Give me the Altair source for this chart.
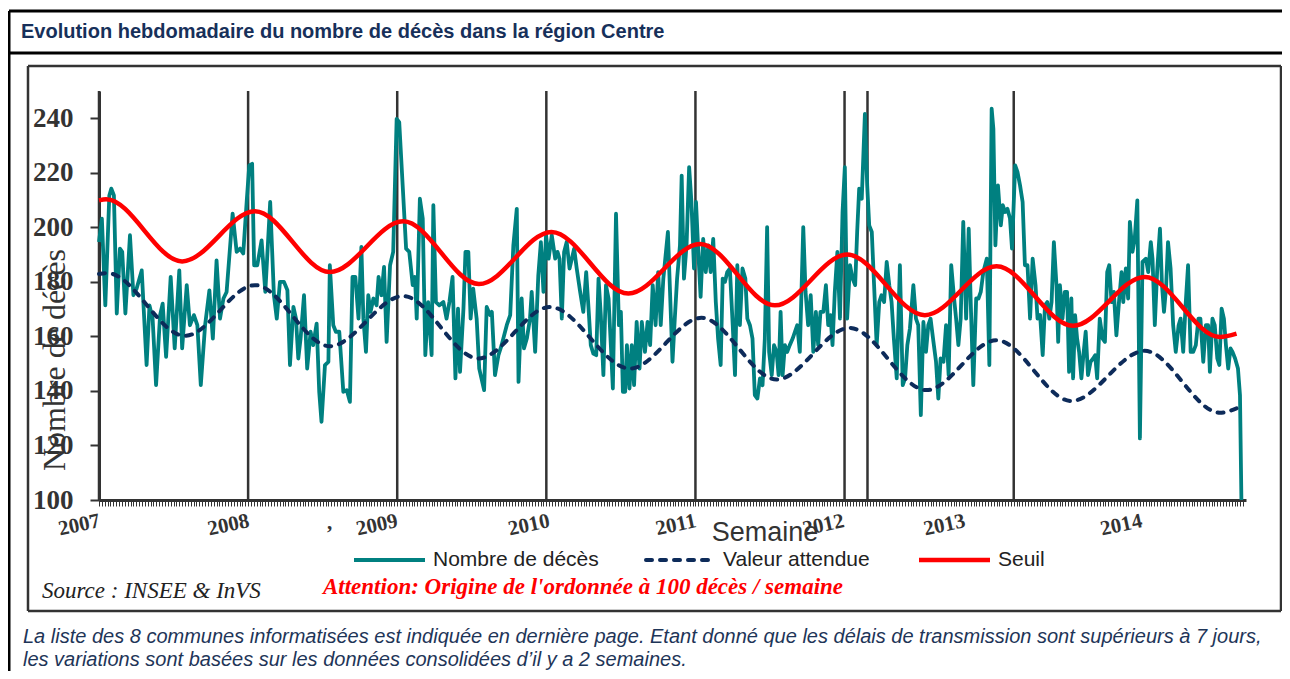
import altair as alt
import pandas as pd

# ---------------- data ----------------
# weekly deaths (week index from 1st week of 2007, value)
death_2007 = [(0.0,194.6),(1.0,203.2),(2.2,171.4),(3.6,211.7),(4.3,214.2),(5.2,211.7),(6.2,168.4),(7.3,192.2),(8.1,191.0),(9.2,168.4),(10.8,197.1),(12.0,175.1),(13.1,177.5),(14.9,184.2),(16.6,149.5),(17.6,171.4),(18.7,166.5),(19.9,142.1),(21.3,167.8),(22.2,172.0),(23.4,152.5),(25.0,181.8),(26.4,155.6),(28.0,184.2),(29.0,155.6),(30.6,178.8),(31.7,164.1),(33.1,167.8),(34.3,164.1),(35.5,142.1),(37.0,164.1),(38.5,176.9),(39.7,159.2),(41.0,187.9),(42.2,166.5),(43.4,173.9),(44.5,176.3),(46.6,205.0),(48.0,191.0),(49.2,192.2),(50.3,190.4),(51.5,209.3)]
death_2008 = [(52.4,222.7),(53.4,223.3),(54.1,186.1),(55.2,186.1),(56.7,195.2),(58.0,176.3),(59.7,209.3),(61.0,175.1),(62.0,166.5),(63.1,180.0),(64.5,180.0),(65.7,176.9),(66.6,149.5),(67.8,170.8),(68.7,166.5),(69.5,151.9),(70.3,159.2),(71.5,175.1),(72.6,148.2),(73.8,161.7),(74.7,156.8),(75.9,164.7),(76.8,139.7),(77.6,128.7),(78.8,149.5),(80.0,150.7),(80.5,186.1),(81.7,164.1),(82.6,161.7),(83.8,161.7),(85.2,139.7),(86.4,140.3),(87.5,136.0),(88.4,181.8),(89.4,181.8),(90.5,166.5),(91.5,192.8),(92.2,166.5),(93.1,154.3),(93.9,175.1),(94.7,169.0),(95.7,173.9),(96.8,171.4),(97.5,181.8),(98.5,175.1),(99.4,185.5),(100.3,158.0),(101.5,186.1),(102.6,191.0)]
death_2009 = [(103.8,239.8),(104.7,238.6),(105.9,215.4),(107.1,192.2),(108.2,191.0),(109.4,178.8),(110.2,181.8),(110.8,166.5),(111.9,210.5),(112.9,203.2),(113.8,153.1),(114.8,172.6),(116.0,153.1),(116.6,208.1),(117.5,172.6),(118.7,171.4),(120.1,172.6),(121.2,166.5),(122.2,172.6),(123.3,181.8),(124.3,144.6),(125.2,170.2),(125.9,147.0),(127.1,170.2),(127.8,191.0),(128.8,191.0),(129.6,166.5),(130.5,177.5),(131.7,166.5),(132.6,148.2),(134.3,140.3),(135.2,170.8),(136.4,167.8),(137.0,169.0),(138.1,145.8),(139.3,153.1),(140.4,156.8),(142.2,164.1),(143.4,167.8),(144.5,193.4),(145.7,206.8),(146.3,143.3),(147.4,173.9),(148.2,155.6),(149.2,159.2),(150.3,166.5),(150.9,176.3),(152.1,154.3),(153.2,182.4),(154.1,194.6),(155.0,176.3)]
death_2010 = [(155.9,197.1),(156.8,188.5),(157.9,197.1),(159.1,188.5),(159.9,191.0),(160.6,188.5),(161.4,166.5),(162.2,191.0),(163.1,194.6),(164.1,184.9),(164.9,188.5),(165.7,192.2),(166.6,184.9),(167.8,176.3),(168.9,169.0),(169.9,183.6),(170.8,169.0),(171.5,156.8),(172.4,153.7),(173.4,153.1),(174.2,181.2),(175.0,167.8),(175.9,145.8),(176.8,178.8),(177.7,173.9),(178.5,156.8),(179.2,140.9),(180.3,205.0),(181.3,164.1),(182.0,169.0),(182.7,139.7),(183.5,139.7),(184.1,156.8),(185.0,140.9),(185.8,156.8),(186.6,142.1),(187.5,165.3),(188.5,148.2),(189.3,165.3),(190.4,154.3),(191.3,165.3),(192.2,156.8),(193.1,178.8),(194.1,164.1),(195.0,183.6),(195.9,164.1),(196.8,181.2),(198.4,198.3),(200.0,150.7),(200.8,166.5),(201.6,181.2),(202.6,193.4),(203.2,219.0),(204.0,181.2),(204.9,193.4),(205.8,222.1),(206.6,209.3),(207.5,184.9)]
death_2011 = [(208.2,209.3),(209.0,191.0),(209.8,174.5),(210.7,195.8),(211.6,183.6),(212.5,193.4),(213.3,183.6),(214.2,195.8),(215.1,172.6),(215.9,159.2),(216.8,149.5),(217.5,181.2),(218.3,180.0),(219.1,183.6),(220.0,184.9),(221.0,164.1),(221.8,145.8),(222.6,186.1),(223.5,164.1),(224.4,184.9),(225.4,181.2),(226.1,166.5),(227.0,164.1),(227.9,159.2),(228.7,138.5),(229.6,137.2),(230.5,144.6),(231.4,142.1),(232.2,159.2),(233.0,200.1),(233.7,154.3),(234.6,145.8),(235.4,156.8),(236.3,154.3),(237.0,145.8),(237.7,169.0),(238.4,145.8),(239.2,156.8),(240.0,154.3),(240.9,156.8),(241.9,159.2),(242.7,161.7),(243.5,164.1),(244.4,154.3),(245.6,200.1),(246.4,176.3),(247.3,164.1),(248.2,175.1),(249.1,154.3),(250.0,169.0),(250.8,156.8),(251.6,169.0),(252.6,169.0),(253.5,178.8),(254.3,164.1),(255.1,167.8),(255.8,156.8),(256.6,176.3),(257.5,191.0),(258.4,166.5),(259.3,205.6)]
death_2012 = [(260.1,222.1),(260.9,166.5),(261.9,186.1),(262.8,181.2),(263.7,178.8),(264.4,198.3),(265.1,214.2),(266.0,210.5),(267.1,241.6),(267.9,215.4),(268.6,200.7),(269.5,198.3),(270.3,178.8),(271.2,156.8),(272.1,172.6),(272.9,175.1),(273.8,172.6),(274.7,187.3),(275.6,178.8),(276.4,172.6),(277.2,159.2),(278.2,144.6),(279.3,186.1),(280.3,142.1),(281.1,144.6),(281.9,156.8),(282.8,162.9),(284.0,178.8),(284.9,166.5),(285.7,164.1),(286.6,131.1),(287.5,165.3),(288.4,154.3),(289.2,164.1),(290.0,166.5),(291.0,158.0),(291.9,150.7),(292.7,137.2),(293.5,151.9),(294.5,150.7),(295.4,164.1),(296.3,145.8),(297.2,186.1),(298.2,173.9),(298.9,166.5),(299.7,156.8),(300.5,166.5),(301.4,202.0),(302.4,166.5),(303.3,199.5),(304.0,172.6),(304.9,142.1),(305.9,173.9),(306.7,173.9),(307.5,176.3),(308.4,183.6),(309.6,188.5),(310.5,149.5)]
death_2013 = [(311.3,243.5),(311.9,236.1),(312.6,193.4),(313.5,215.4),(314.5,200.7),(315.2,208.1),(316.0,205.6),(316.8,206.8),(317.7,203.2),(318.4,192.2),(319.5,222.7),(320.3,220.3),(321.2,215.4),(322.1,209.3),(322.9,186.1),(323.8,186.1),(324.7,166.5),(325.6,188.5),(326.6,178.8),(327.3,166.5),(328.2,167.8),(329.1,153.1),(329.9,171.4),(330.7,172.6),(331.4,166.5),(332.2,172.6),(333.0,194.6),(333.9,178.8),(334.5,158.0),(335.1,178.8),(336.0,166.5),(336.8,176.3),(337.6,176.3),(338.3,147.0),(339.1,173.9),(339.7,144.6),(340.4,167.8),(341.1,159.2),(341.8,154.3),(342.6,144.6),(343.4,154.3),(344.1,161.7),(344.9,145.8),(345.8,150.7),(346.7,151.9),(347.4,153.1),(348.1,144.6),(349.0,166.5),(350.0,159.2),(350.8,158.0),(351.6,183.6),(352.3,186.1),(353.1,172.6),(353.9,176.3),(354.8,160.4),(355.8,173.9),(356.6,183.6),(357.2,172.6),(358.1,184.9),(358.9,173.9),(359.5,202.0),(360.4,191.0),(361.2,195.8),(362.1,209.9)]
death_2014 = [(363.0,122.6),(363.9,187.3),(365.1,188.5),(365.9,183.6),(366.8,194.6),(367.4,188.5),(368.2,164.1),(369.0,183.6),(370.0,199.5),(370.7,178.8),(371.4,169.0),(372.1,177.5),(372.8,194.6),(373.7,184.9),(374.6,164.1),(375.5,154.3),(376.5,164.1),(377.2,166.5),(378.1,154.3),(379.0,172.6),(379.8,186.1),(380.7,154.3),(381.6,154.3),(382.5,156.8),(383.4,166.5),(384.1,166.5),(385.1,150.7),(386.0,164.1),(386.8,164.1),(387.4,147.0),(388.3,166.5),(389.1,164.1),(390.0,151.9),(390.7,149.5),(391.5,170.2),(392.3,166.5),(393.0,156.8),(393.8,148.2),(394.6,155.6),(395.3,154.3),(396.2,151.9),(397.2,148.2),(397.9,138.5),(398.4,100.0)]

# expected value (dashed) : turning points
expected_weeks = [0, 3, 30, 54.4, 80.5, 106.1, 132.3, 157.3, 185.2, 210.1, 236.3, 261.8, 288.6, 313, 339.1, 364.7, 390.9, 396.7]
expected_values = [182.9, 183.2, 160.2, 178.8, 156.4, 174.8, 151.9, 170.8, 148.2, 166.8, 144.2, 163.1, 140.3, 158.6, 136.3, 154.7, 132.0, 133.6]

# threshold (red) : turning points
threshold_weeks = [0, 2.5, 29, 54.4, 80.5, 106.1, 132.5, 157.8, 184.6, 209.6, 235.7, 260.9, 288, 313, 339.7, 364.7, 390.9, 396.7]
threshold_values = [209.9, 210.3, 187.5, 205.9, 183.6, 202.2, 179.2, 198.3, 175.7, 193.9, 171.4, 190.0, 167.8, 185.7, 163.9, 181.8, 159.8, 161.0]

year_line_weeks = [0, 52, 104, 156, 208, 260, 268, 319]
year_labels = ["2007", "2008", "2009", "2010", "2011", "2012", "2013", "2014"]
year_label_weeks = [0.3, 52.3, 104.1, 157.1, 208.2, 259.8, 302, 363.7]
y_ticks = [100, 120, 140, 160, 180, 200, 220, 240]
x_ticks = list(range(0, 400))

# ---------------- tables ----------------
death_points = death_2007 + death_2008 + death_2009 + death_2010 + death_2011 + death_2012 + death_2013 + death_2014
df_death = pd.DataFrame({"week": [p[0] for p in death_points], "value": [p[1] for p in death_points]})
df_exp = pd.DataFrame({"week": expected_weeks, "value": expected_values})
df_thr = pd.DataFrame({"week": threshold_weeks, "value": threshold_values})
df_years = pd.DataFrame({"week": year_line_weeks})
df_ylab = pd.DataFrame({"week": year_label_weeks, "label": year_labels})
dummy = pd.DataFrame({"a": [0]})

TEAL = "#008080"
NAVY = "#0d2b5a"
RED = "#ff0000"
DARK = "#333333"

x_scale = alt.Scale(domain=[0, 400], nice=False, zero=False)
y_scale = alt.Scale(domain=[100, 250], nice=False, zero=False)
x_axis = alt.Axis(values=x_ticks, labels=False, tickSize=6, tickWidth=1, tickColor=DARK,
                  domainColor=DARK, domainWidth=3, grid=False, title=None)
y_axis = alt.Axis(values=y_ticks, labelFont="Liberation Serif", labelFontSize=27,
                  labelFontWeight="bold", labelColor=DARK, tickSize=9, tickWidth=2,
                  tickColor=DARK, domainColor=DARK, domainWidth=3, labelPadding=17,
                  grid=False, title=None)
X = alt.X("week:Q", scale=x_scale, axis=x_axis)
Y = alt.Y("value:Q", scale=y_scale, axis=y_axis)


def text(t, x, y, size, font="Liberation Sans", color="#222222", weight="normal",
         style="normal", align="left", angle=0):
    return alt.Chart(dummy).mark_text(
        text=t, font=font, fontSize=size, fontWeight=weight, fontStyle=style,
        color=color, align=align, baseline="middle", angle=angle
    ).encode(x=alt.value(x), y=alt.value(y))


def hline(x1, x2, y, color="black", width=3, dash=None):
    kw = dict(color=color, strokeWidth=width)
    if dash:
        kw["strokeDash"] = dash
        kw["strokeCap"] = "round"
    return alt.Chart(dummy).mark_rule(**kw).encode(
        x=alt.value(x1), x2=alt.value(x2), y=alt.value(y))


def vline(x, y1, y2, color="black", width=3):
    return alt.Chart(dummy).mark_rule(color=color, strokeWidth=width).encode(
        x=alt.value(x), y=alt.value(y1), y2=alt.value(y2))


# frames (chart coords: page_x - 99, page_y - 91)
frames = [
    hline(-90, 1183, -80, "black", 3),
    hline(-90, 1183, -38, "black", 3),
    vline(-90, -80, 585, "black", 3),
    hline(-71, 1182, -25, DARK, 2.5),
    hline(-71, 1182, 520, DARK, 2.5),
    vline(-71, -25, 520, DARK, 2.5),
    vline(1182, -25, 520, DARK, 2.5),
]

year_rules = alt.Chart(df_years).mark_rule(color=DARK, strokeWidth=2.5).encode(x=X)

deaths = alt.Chart(df_death).mark_line(color=TEAL, strokeWidth=3.8, strokeJoin="round").encode(x=X, y=Y)
expected = alt.Chart(df_exp).mark_line(color=NAVY, strokeWidth=4, strokeDash=[6, 8],
                                       strokeCap="round", interpolate="monotone").encode(x=X, y=Y)
threshold = alt.Chart(df_thr).mark_line(color=RED, strokeWidth=4.5,
                                        interpolate="monotone").encode(x=X, y=Y)

year_text = alt.Chart(df_ylab).mark_text(
    font="Liberation Serif", fontWeight="bold", fontSize=21, color=DARK,
    align="right", baseline="middle", angle=348
).encode(x=X, y=alt.value(430), text="label:N")

labels = [
    text("Evolution hebdomadaire du nombre de décès dans la région Centre", -78, -59, 20,
         color="#17305a", weight="bold"),
    text("Nombre de décès", -44, 269, 32, font="Liberation Serif", color=DARK,
         align="center", angle=270),
    text(",", 228, 432, 21, font="Liberation Serif", color=DARK, weight="bold"),
    text("Semaine", 666, 442, 27, color=DARK, align="center"),
    text("Nombre de décès", 334, 469, 21),
    text("Valeur attendue", 624, 469, 21),
    text("Seuil", 899, 469, 21),
    text("Source : INSEE & InVS", -57, 500, 23, font="Liberation Serif", style="italic"),
    text("Attention: Origine de l'ordonnée à 100 décès / semaine", 224, 496, 23,
         font="Liberation Serif", style="italic", weight="bold", color=RED),
    text("La liste des 8  communes informatisées est indiquée en dernière page. Etant donné que "
         "les délais de transmission sont supérieurs à 7 jours,", -76, 546, 20,
         style="italic", color="#1e3558"),
    text("les variations sont basées sur les données consolidées d’il y a 2 semaines.",
         -76, 569, 20, style="italic", color="#1e3558"),
]

legend_lines = [
    hline(255, 326, 469, TEAL, 4),
    hline(547, 614, 469, NAVY, 4, dash=[6, 8]),
    hline(820, 891, 469, RED, 4.5),
]

chart = alt.layer(
    *frames, year_rules, deaths, expected, threshold, year_text, *labels, *legend_lines
).properties(
    width=1147, height=409,
    padding={"left": 91, "top": 83, "right": 36, "bottom": 171},
    autosize=alt.AutoSizeParams(type="none"),
    background="white",
).configure_view(strokeWidth=0)

chart.save("out.html", embed_options={"renderer": "svg", "actions": False})
